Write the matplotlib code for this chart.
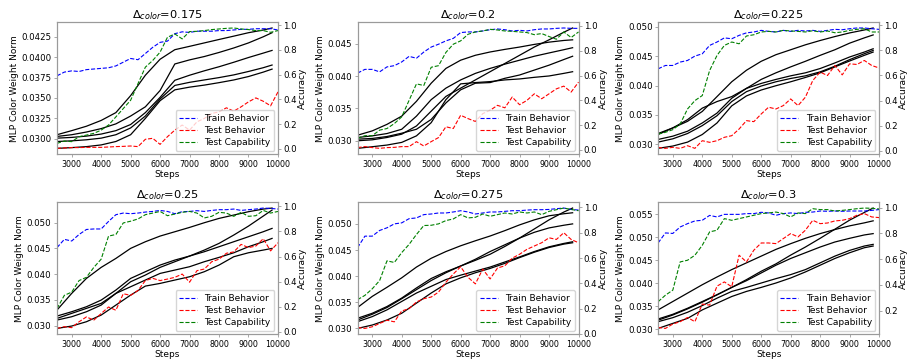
import matplotlib
matplotlib.use("Agg")
import matplotlib.pyplot as plt

# ---------------- data ----------------
deltas = ["0.175", "0.2", "0.225", "0.25", "0.275", "0.3"]

norm_steps = [2500, 3000, 3500, 4000, 4500, 5000, 5500, 6000, 6500, 7000,
              7500, 8000, 8500, 9000, 9500, 9800]
acc_steps = [2500, 2750, 3000, 3250, 3500, 3750, 4000, 4250, 4500, 4750,
             5000, 5250, 5500, 5750, 6000, 6250, 6500, 6750, 7000, 7250,
             7500, 7750, 8000, 8250, 8500, 8750, 9000, 9250, 9500, 9750, 10000]

# MLP colour weight norm, five runs per panel
norm_0175 = [
    [0.0305, 0.0310, 0.03154, 0.03225, 0.03321, 0.03529, 0.03779, 0.03975, 0.04092, 0.04133, 0.04175, 0.04217, 0.04258, 0.0430, 0.04333, 0.04358],
    [0.03029, 0.0305, 0.03083, 0.03125, 0.03183, 0.03279, 0.03392, 0.03592, 0.03917, 0.03967, 0.04008, 0.04058, 0.04113, 0.04175, 0.0425, 0.0430],
    [0.03008, 0.03017, 0.03033, 0.03058, 0.0310, 0.03175, 0.03321, 0.03508, 0.03717, 0.03779, 0.03833, 0.03883, 0.03938, 0.03996, 0.0405, 0.04083],
    [0.02967, 0.02975, 0.02988, 0.03008, 0.0305, 0.03133, 0.03279, 0.03488, 0.03654, 0.03692, 0.03721, 0.0375, 0.03783, 0.03825, 0.03871, 0.03904],
    [0.02883, 0.02892, 0.02904, 0.02925, 0.02967, 0.0305, 0.0325, 0.03467, 0.0360, 0.03633, 0.03658, 0.03688, 0.03721, 0.03763, 0.03817, 0.03854],
]
norm_0200 = [
    [0.03086, 0.03153, 0.03254, 0.03381, 0.0361, 0.0389, 0.04119, 0.04246, 0.04322, 0.04373, 0.04413, 0.04449, 0.0449, 0.04525, 0.04551, 0.04561],
    [0.03051, 0.03076, 0.03112, 0.03178, 0.03381, 0.03636, 0.03814, 0.03941, 0.04042, 0.04119, 0.04185, 0.04246, 0.04307, 0.04358, 0.04408, 0.04439],
    [0.0300, 0.03015, 0.03051, 0.03102, 0.03229, 0.03458, 0.03686, 0.03814, 0.03941, 0.04068, 0.04195, 0.04322, 0.04449, 0.04561, 0.04678, 0.04744],
    [0.03025, 0.03036, 0.03066, 0.03117, 0.03178, 0.0333, 0.03585, 0.03788, 0.0389, 0.0390, 0.03966, 0.04017, 0.04093, 0.04169, 0.04256, 0.04307],
    [0.02883, 0.02908, 0.02934, 0.02975, 0.03076, 0.0328, 0.03636, 0.0388, 0.0390, 0.03915, 0.03941, 0.03956, 0.03981, 0.04002, 0.04042, 0.04068],
]
norm_0225 = [
    [0.03168, 0.0328, 0.03392, 0.0356, 0.03812, 0.04064, 0.0426, 0.04412, 0.04524, 0.04608, 0.04692, 0.04765, 0.04832, 0.04894, 0.04944, 0.04978],
    [0.03185, 0.0328, 0.0342, 0.03616, 0.03728, 0.03812, 0.03952, 0.04104, 0.04216, 0.04317, 0.04412, 0.04513, 0.04608, 0.0472, 0.0481, 0.0486],
    [0.03084, 0.0314, 0.03224, 0.03364, 0.03532, 0.03784, 0.03952, 0.04036, 0.04104, 0.04165, 0.04216, 0.04289, 0.04384, 0.04485, 0.04569, 0.04625],
    [0.03039, 0.03095, 0.03185, 0.03319, 0.03487, 0.03728, 0.03896, 0.03992, 0.04064, 0.0412, 0.04165, 0.04232, 0.04328, 0.0444, 0.04541, 0.04597],
    [0.02933, 0.02972, 0.03039, 0.03168, 0.03364, 0.03655, 0.03824, 0.03924, 0.03997, 0.04064, 0.04137, 0.04216, 0.04317, 0.04417, 0.04513, 0.04569],
]
norm_0250 = [
    [0.03304, 0.03628, 0.03919, 0.04133, 0.04307, 0.04502, 0.04631, 0.04741, 0.04825, 0.04909, 0.0500, 0.05084, 0.05149, 0.05214, 0.05265, 0.05285],
    [0.03142, 0.0324, 0.03337, 0.03434, 0.03628, 0.03854, 0.03984, 0.04133, 0.04243, 0.04353, 0.04469, 0.04599, 0.04761, 0.04935, 0.05129, 0.05246],
    [0.03188, 0.03272, 0.03369, 0.03498, 0.03693, 0.03919, 0.04049, 0.04178, 0.04275, 0.04353, 0.04437, 0.04534, 0.04631, 0.04728, 0.04825, 0.0489],
    [0.0311, 0.03175, 0.03272, 0.03401, 0.03628, 0.03757, 0.03887, 0.04016, 0.04081, 0.04146, 0.04243, 0.04327, 0.04417, 0.04534, 0.04631, 0.04696],
    [0.02948, 0.02994, 0.03078, 0.03207, 0.03401, 0.03595, 0.0377, 0.03822, 0.03887, 0.03951, 0.04049, 0.04178, 0.0434, 0.04417, 0.04469, 0.04502],
]
norm_0275 = [
    [0.034, 0.03613, 0.03787, 0.03968, 0.04174, 0.04342, 0.04471, 0.04581, 0.04677, 0.04768, 0.04871, 0.04981, 0.05077, 0.05155, 0.05194, 0.05213],
    [0.03194, 0.0329, 0.03419, 0.03581, 0.03774, 0.03955, 0.04084, 0.04194, 0.04303, 0.04419, 0.04568, 0.04729, 0.04903, 0.05077, 0.05226, 0.05303],
    [0.03161, 0.03271, 0.034, 0.03568, 0.03742, 0.03916, 0.04065, 0.04194, 0.04323, 0.04471, 0.046, 0.04729, 0.04839, 0.04923, 0.04974, 0.0500],
    [0.03129, 0.03226, 0.03355, 0.03516, 0.03677, 0.03806, 0.03935, 0.04019, 0.04097, 0.04174, 0.04271, 0.04368, 0.04471, 0.04561, 0.04626, 0.04658],
    [0.0300, 0.03065, 0.03161, 0.0329, 0.03484, 0.03677, 0.03852, 0.03968, 0.04065, 0.04148, 0.04245, 0.04355, 0.04458, 0.04548, 0.04613, 0.04639],
]
norm_0300 = [
    [0.03423, 0.03605, 0.03787, 0.03969, 0.04137, 0.04297, 0.04443, 0.04589, 0.04735, 0.04859, 0.04975, 0.05077, 0.05165, 0.05245, 0.0531, 0.05354],
    [0.03226, 0.03328, 0.03459, 0.03605, 0.03751, 0.03911, 0.04079, 0.04261, 0.04421, 0.04611, 0.04786, 0.04975, 0.05172, 0.05369, 0.05536, 0.05631],
    [0.0320, 0.03313, 0.03445, 0.0359, 0.03751, 0.03911, 0.04057, 0.04224, 0.04392, 0.04538, 0.04662, 0.04786, 0.04895, 0.04975, 0.05048, 0.05077],
    [0.03168, 0.03255, 0.03372, 0.03517, 0.03678, 0.03824, 0.03911, 0.04006, 0.04101, 0.04188, 0.04297, 0.04443, 0.04589, 0.04713, 0.04808, 0.04844],
    [0.03022, 0.03131, 0.0324, 0.03423, 0.03569, 0.03714, 0.03824, 0.03911, 0.04006, 0.04115, 0.04246, 0.04392, 0.04538, 0.04662, 0.04771, 0.04808],
]

# accuracies
train_0175 = [0.59, 0.62, 0.63, 0.625, 0.64, 0.645, 0.65, 0.655, 0.67, 0.70, 0.73, 0.72, 0.77, 0.82, 0.86, 0.87, 0.93, 0.945, 0.94, 0.95, 0.95, 0.95, 0.955, 0.955, 0.96, 0.965, 0.965, 0.97, 0.97, 0.97, 0.96]
test_0175 = [0.005, 0.008, 0.011, 0.011, 0.013, 0.013, 0.013, 0.016, 0.019, 0.021, 0.024, 0.019, 0.078, 0.086, 0.037, 0.099, 0.152, 0.193, 0.152, 0.219, 0.246, 0.286, 0.299, 0.332, 0.305, 0.34, 0.38, 0.412, 0.385, 0.348, 0.46]
cap_0175 = [0.045, 0.064, 0.059, 0.099, 0.112, 0.126, 0.152, 0.193, 0.259, 0.326, 0.393, 0.527, 0.66, 0.714, 0.781, 0.901, 0.928, 0.888, 0.947, 0.949, 0.955, 0.963, 0.968, 0.973, 0.976, 0.968, 0.963, 0.955, 0.955, 0.941, 0.955]

train_0200 = [0.62, 0.65, 0.65, 0.63, 0.67, 0.68, 0.71, 0.755, 0.74, 0.79, 0.83, 0.853, 0.88, 0.90, 0.947, 0.952, 0.952, 0.96, 0.97, 0.976, 0.97, 0.96, 0.965, 0.96, 0.97, 0.976, 0.976, 0.981, 0.984, 0.981, 0.981]
test_0200 = [0.019, 0.027, 0.019, 0.013, 0.019, 0.021, 0.027, 0.027, 0.067, 0.032, 0.067, 0.10, 0.187, 0.173, 0.28, 0.253, 0.23, 0.293, 0.32, 0.36, 0.34, 0.427, 0.365, 0.40, 0.453, 0.413, 0.453, 0.493, 0.515, 0.467, 0.547]
cap_0200 = [0.093, 0.115, 0.115, 0.16, 0.173, 0.213, 0.267, 0.40, 0.533, 0.52, 0.667, 0.68, 0.787, 0.853, 0.88, 0.933, 0.952, 0.96, 0.973, 0.968, 0.96, 0.957, 0.952, 0.947, 0.93, 0.939, 0.915, 0.893, 0.952, 0.907, 0.952]

train_0225 = [0.653, 0.68, 0.68, 0.707, 0.72, 0.755, 0.773, 0.84, 0.867, 0.90, 0.893, 0.92, 0.94, 0.947, 0.96, 0.952, 0.947, 0.96, 0.952, 0.96, 0.955, 0.96, 0.952, 0.96, 0.968, 0.965, 0.973, 0.979, 0.979, 0.973, 0.968]
test_0225 = [0.027, 0.019, 0.027, 0.019, 0.04, 0.019, 0.08, 0.067, 0.08, 0.107, 0.12, 0.173, 0.24, 0.232, 0.293, 0.347, 0.333, 0.36, 0.413, 0.36, 0.427, 0.56, 0.627, 0.60, 0.68, 0.605, 0.693, 0.688, 0.72, 0.68, 0.66]
cap_0225 = [0.133, 0.147, 0.168, 0.213, 0.333, 0.40, 0.44, 0.64, 0.76, 0.84, 0.867, 0.853, 0.915, 0.925, 0.947, 0.952, 0.947, 0.96, 0.955, 0.952, 0.947, 0.957, 0.947, 0.955, 0.941, 0.947, 0.96, 0.968, 0.973, 0.947, 0.947]

train_0250 = [0.671, 0.737, 0.724, 0.776, 0.816, 0.82, 0.82, 0.88, 0.934, 0.947, 0.942, 0.947, 0.955, 0.96, 0.968, 0.96, 0.942, 0.958, 0.96, 0.966, 0.96, 0.968, 0.974, 0.974, 0.979, 0.968, 0.974, 0.979, 0.987, 0.984, 0.979]
test_0250 = [0.026, 0.04, 0.032, 0.079, 0.118, 0.092, 0.145, 0.197, 0.171, 0.303, 0.29, 0.329, 0.408, 0.426, 0.408, 0.42, 0.434, 0.46, 0.395, 0.487, 0.50, 0.558, 0.579, 0.626, 0.637, 0.697, 0.671, 0.684, 0.742, 0.645, 0.71]
cap_0250 = [0.184, 0.29, 0.316, 0.408, 0.434, 0.513, 0.579, 0.763, 0.776, 0.868, 0.882, 0.90, 0.934, 0.947, 0.96, 0.926, 0.939, 0.953, 0.96, 0.947, 0.908, 0.921, 0.953, 0.947, 0.921, 0.953, 0.921, 0.926, 0.968, 0.947, 0.96]

train_0275 = [0.682, 0.773, 0.773, 0.818, 0.839, 0.87, 0.878, 0.911, 0.917, 0.943, 0.948, 0.956, 0.956, 0.964, 0.974, 0.964, 0.948, 0.956, 0.964, 0.964, 0.969, 0.974, 0.974, 0.979, 0.982, 0.982, 0.984, 0.99, 0.995, 0.984, 0.979]
test_0275 = [0.052, 0.044, 0.057, 0.083, 0.109, 0.096, 0.182, 0.20, 0.253, 0.279, 0.292, 0.331, 0.409, 0.474, 0.531, 0.448, 0.396, 0.513, 0.435, 0.521, 0.539, 0.599, 0.63, 0.669, 0.695, 0.721, 0.76, 0.747, 0.80, 0.747, 0.721]
cap_0275 = [0.271, 0.305, 0.357, 0.422, 0.578, 0.565, 0.643, 0.708, 0.786, 0.857, 0.859, 0.87, 0.896, 0.909, 0.943, 0.917, 0.922, 0.948, 0.93, 0.943, 0.956, 0.948, 0.964, 0.956, 0.964, 0.943, 0.969, 0.982, 0.995, 0.984, 0.974]

train_0300 = [0.726, 0.804, 0.80, 0.85, 0.876, 0.897, 0.902, 0.94, 0.928, 0.948, 0.948, 0.948, 0.954, 0.954, 0.964, 0.959, 0.941, 0.954, 0.959, 0.954, 0.964, 0.966, 0.974, 0.972, 0.974, 0.972, 0.974, 0.974, 0.974, 0.979, 0.985]
test_0300 = [0.071, 0.063, 0.097, 0.115, 0.148, 0.115, 0.252, 0.244, 0.391, 0.424, 0.386, 0.631, 0.579, 0.67, 0.726, 0.726, 0.721, 0.76, 0.799, 0.773, 0.825, 0.902, 0.876, 0.881, 0.897, 0.902, 0.915, 0.941, 0.954, 0.928, 0.923]
cap_0300 = [0.27, 0.321, 0.36, 0.579, 0.592, 0.631, 0.708, 0.812, 0.825, 0.915, 0.902, 0.915, 0.928, 0.941, 0.954, 0.959, 0.966, 0.954, 0.928, 0.959, 0.954, 0.992, 0.985, 0.985, 0.974, 0.979, 0.985, 0.992, 0.997, 0.995, 0.99]

norms = [norm_0175, norm_0200, norm_0225, norm_0250, norm_0275, norm_0300]
trains = [train_0175, train_0200, train_0225, train_0250, train_0275, train_0300]
tests = [test_0175, test_0200, test_0225, test_0250, test_0275, test_0300]
caps = [cap_0175, cap_0200, cap_0225, cap_0250, cap_0275, cap_0300]

# ---------------- plotting ----------------
XTICK = 5.7
YTICK = 6.2
RTICK = 6.2
LAB = 6.5
TITLE = 8.2
SPINE = "#9a9a9a"

fig, axes = plt.subplots(2, 3, figsize=(9.1, 3.6), dpi=100)
fig.subplots_adjust(left=0.0626, right=0.966, bottom=0.071, top=0.939,
                    wspace=0.36, hspace=0.36)

for i, ax in enumerate(axes.flat):
    for run in norms[i]:
        ax.plot(norm_steps, run, color="black", lw=0.9)
    ax.set_xlim(2500, 10000)
    ax.set_xticks([3000, 4000, 5000, 6000, 7000, 8000, 9000, 10000])
    ax.set_xlabel("Steps", fontsize=LAB, labelpad=0.5)
    ax.set_ylabel("MLP Color Weight Norm", fontsize=LAB, labelpad=2)
    ax.set_title(r"$\Delta_{color}$=" + deltas[i], fontsize=TITLE, pad=3)
    ax.tick_params(axis="x", labelsize=XTICK, length=2.5, width=0.6, pad=1.5, color=SPINE)
    ax.tick_params(axis="y", labelsize=YTICK, length=2.5, width=0.6, pad=1.5, color=SPINE)

    ax2 = ax.twinx()
    ax2.plot(acc_steps, trains[i], "--", color="blue", lw=0.8, label="Train Behavior")
    ax2.plot(acc_steps, tests[i], "--", color="red", lw=0.8, label="Test Behavior")
    ax2.plot(acc_steps, caps[i], "--", color="green", lw=0.8, label="Test Capability")
    ax2.set_ylabel("Accuracy", fontsize=LAB, labelpad=1)
    ax2.tick_params(labelsize=RTICK, length=2.5, width=0.6, pad=1.2, color=SPINE)
    ax2.set_xlim(2500, 10000)
    for a in (ax, ax2):
        for s in a.spines.values():
            s.set_color(SPINE)
            s.set_linewidth(0.8)
    ax2.legend(loc="lower right", fontsize=6.5, handlelength=2.0,
               borderpad=0.4, labelspacing=0.35, handletextpad=0.8,
               borderaxespad=0.4)

fig.savefig("out.png", dpi=100)
